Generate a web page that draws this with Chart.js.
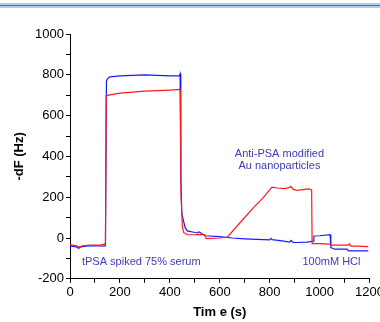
<!DOCTYPE html>
<html><head><meta charset="utf-8">
<script src="https://cdn.jsdelivr.net/npm/chart.js@4"></script>
<style>
html,body{margin:0;padding:0;background:#fff;overflow:hidden;width:380px;height:322px;}
#band{position:absolute;left:0;top:3px;width:380px;height:5px;background:linear-gradient(#a9d0f0 0,#a9d0f0 40%,#2f7cc4 40%,#2f7cc4 70%,#a9d0f0 70%,#a9d0f0 100%);}
#wrap{position:absolute;left:0;top:0;width:386px;height:322px;}
</style></head><body>
<div id="band"></div>
<div id="wrap"><canvas id="c" width="386" height="322"></canvas></div>
<script>
const tRed = [0,10,30,35,50,80,120,138,142,145,160,200,250,300,350,400,440,442,445,450,455,470,500,515,540,545,600,631,682,736,776,809,830,860,880,885,895,910,940,957,968,970,1000,1040,1045,1100,1115,1120,1125,1150,1195];
const red  = [-32,-35,-40,-45,-38,-35,-35,-30,-25,698,702,710,715,720,722,725,728,720,200,60,27,16,16,18,16,-3,0,5,76,150,200,249,245,242,248,253,238,233,238,241,236,-28,-28,-30,-35,-35,-35,-28,-40,-40,-42];
const tBlue = [0,20,35,40,60,100,140,142,146,150,160,200,300,400,438,441,444,448,461,470,500,510,515,520,541,600,650,700,750,800,805,810,850,880,885,895,910,950,975,977,1000,1042,1045,1060,1100,1110,1115,1140,1195];
const blue  = [-40,-42,-50,-45,-40,-38,-40,-35,770,780,790,795,800,795,795,805,300,120,52,35,27,25,30,28,11,7,0,-4,-7,-9,-2,-8,-14,-20,-12,-22,-22,-20,-15,10,11,16,-47,-55,-55,-55,-63,-63,-63];
const xTicks = [0,200,400,600,800,1000,1200];
const yTicks = [-200,0,200,400,600,800,1000];
const notes = [
  {text:'Anti-PSA modified', x:839, y:412, align:'center'},
  {text:'Au nanoparticles', x:839, y:353, align:'center'},
  {text:'tPSA spiked 75% serum', x:48, y:-116, align:'left'},
  {text:'100mM HCl', x:931, y:-116, align:'left'}
];
const pts = (t,v)=>t.map((x,i)=>({x:x,y:v[i]}));
const font = "'Liberation Sans', Arial, sans-serif";
const notePlugin = {
  id:'notes',
  afterDatasetsDraw(chart){
    const ctx = chart.ctx, xs = chart.scales.x, ys = chart.scales.y;
    ctx.save();
    ctx.fillStyle = '#3c3cb4';
    ctx.font = '11px ' + font;
    ctx.textBaseline = 'middle';
    notes.forEach(n=>{ ctx.textAlign = n.align; ctx.fillText(n.text, xs.getPixelForValue(n.x), ys.getPixelForValue(n.y)); });
    ctx.restore();
  }
};
new Chart(document.getElementById('c'), {
  type:'line',
  data:{datasets:[
    {data:pts(tRed,red), borderColor:'#ff1a1a', borderWidth:1.2, pointRadius:0, tension:0, fill:false},
    {data:pts(tBlue,blue), borderColor:'#1a1aff', borderWidth:1.2, pointRadius:0, tension:0, fill:false}
  ]},
  options:{
    responsive:false, animation:false, events:[],
    layout:{padding:{left:12,right:0,top:34,bottom:2}},
    plugins:{legend:{display:false}, tooltip:{enabled:false}},
    scales:{
      x:{type:'linear', min:0, max:1200,
        grid:{display:true, drawOnChartArea:false, drawTicks:true, tickLength:4, color:'#000'},
        border:{display:true, color:'#000', width:1},
        ticks:{stepSize:100, autoSkip:false, maxRotation:0, color:'#000', font:{family:font,size:13}, padding:2,
          callback:v=> xTicks.includes(v) ? String(v) : ''},
        title:{display:true, text:'Tim e (s)', color:'#000', font:{family:font,size:13,weight:'bold'}, padding:{top:2,bottom:0}}
      },
      y:{min:-200, max:1000,
        grid:{display:true, drawOnChartArea:false, drawTicks:true, tickLength:4, color:'#000'},
        border:{display:true, color:'#000', width:1},
        ticks:{stepSize:100, autoSkip:false, color:'#000', font:{family:font,size:13}, padding:2,
          callback:v=> yTicks.includes(v) ? String(v) : ''},
        title:{display:true, text:'-dF (Hz)', color:'#000', font:{family:font,size:13,weight:'bold'}, padding:{top:0,bottom:0}},
        afterFit(s){ s.width = 58; }
      }
    }
  },
  plugins:[notePlugin]
});
</script>
</body></html>
